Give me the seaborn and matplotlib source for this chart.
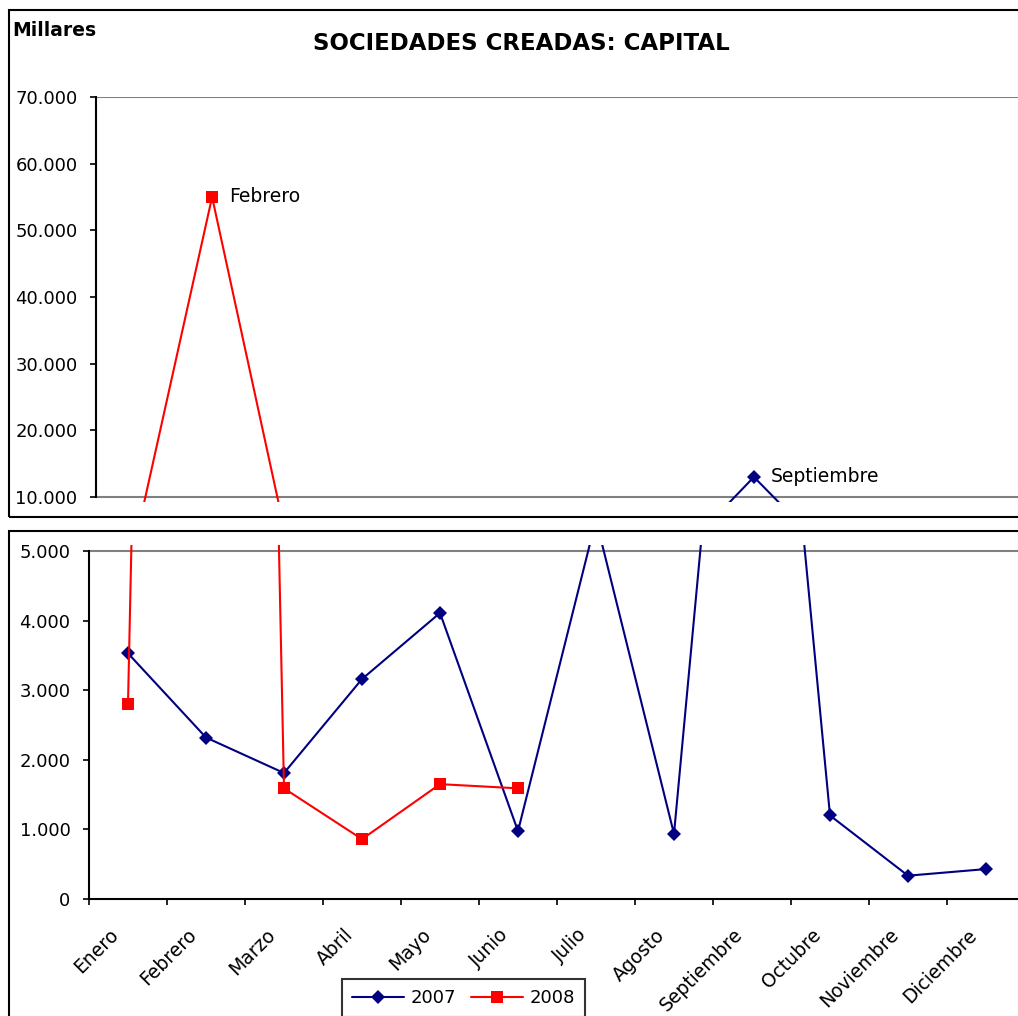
import matplotlib
matplotlib.use("Agg")
import matplotlib.pyplot as plt
from matplotlib.patches import Rectangle
from matplotlib.ticker import FuncFormatter
from matplotlib.transforms import ScaledTranslation
import numpy as np
import pandas as pd
import seaborn as sns

# capital (millares) de sociedades creadas, por mes
meses = ["Enero", "Febrero", "Marzo", "Abril", "Mayo", "Junio", "Julio",
         "Agosto", "Septiembre", "Octubre", "Noviembre", "Diciembre"]
capital_2007 = [3530, 2320, 1810, 3160, 4110, 975, 5450, 935, 13000, 1200, 335, 430]
capital_2008 = [2800, 55000, 1590, 860, 1650, 1590]

colores = {"2007": "#000080", "2008": "#FF0000"}
marcadores = {"2007": "D", "2008": "s"}

W, H = 1018, 1016
sns.set_style("white")
plt.rcParams['font.family'] = ['DejaVu Sans']
plt.rcParams.update({'text.color': 'black', 'axes.labelcolor': 'black',
                     'xtick.color': 'black', 'ytick.color': 'black'})

df = pd.concat([
    pd.DataFrame({"mes": range(len(capital_2007)), "capital": capital_2007, "anio": "2007"}),
    pd.DataFrame({"mes": range(len(capital_2008)), "capital": capital_2008, "anio": "2008"}),
], ignore_index=True)

fig = plt.figure(figsize=(W / 100, H / 100), dpi=100)


def px_axes(x0, y0, x1, y1):
    return fig.add_axes([x0 / W, 1 - y1 / H, (x1 - x0) / W, (y1 - y0) / H])


# broken axis: top panel for the big values, bottom for 0-5000
ax_top = px_axes(96, 97, 96 + 12 * 77.4, 502)
ax_bot = px_axes(89, 545, 89 + 12 * 78, 899)

miles = FuncFormatter(lambda v, p: f"{v:,.0f}".replace(",", "."))

for ax in (ax_top, ax_bot):
    sns.lineplot(data=df, x="mes", y="capital", hue="anio", style="anio",
                 palette=colores, markers=marcadores, dashes=False,
                 linewidth=1.5, markersize=8, markeredgewidth=0,
                 estimator=None, legend=False, ax=ax)
    for l in ax.lines:
        if l.get_marker() == "D":
            l.set_markersize(7)
    ax.set_xlim(-0.5, 11.5)
    ax.set_xlabel("")
    ax.set_ylabel("")
    ax.spines['top'].set_visible(False)
    ax.spines['right'].set_visible(False)
    ax.spines['left'].set_color('black')
    ax.spines['left'].set_linewidth(1.5)
    ax.yaxis.set_major_formatter(miles)
    ax.tick_params(axis='y', left=True, direction='out', length=4.3, width=1.2,
                   pad=9, labelsize=13, colors='black')

serie_handles = list(ax_bot.lines[:2])

# top panel
ax_top.set_ylim(9250, 70000)
ax_top.spines['left'].set_bounds(10000, 70000)
ax_top.spines['bottom'].set_visible(False)
ax_top.set_yticks(np.arange(10000, 70001, 10000))
ax_top.set_xticks([])
ax_top.axhline(70000, color='#808080', lw=1.5, zorder=0)
ax_top.axhline(10000, color='#808080', lw=1.5, zorder=0)
ax_top.annotate("Febrero", xy=(1, capital_2008[1]), xytext=(12, 0),
                textcoords='offset points', va='center', fontsize=13.5)
ax_top.annotate("Septiembre", xy=(8, capital_2007[8]), xytext=(12, 0),
                textcoords='offset points', va='center', fontsize=13.5)

# bottom panel
ax_bot.set_ylim(0, 5086)
ax_bot.spines['left'].set_bounds(0, 5000)
ax_bot.spines['bottom'].set_color('black')
ax_bot.spines['bottom'].set_linewidth(1.5)
ax_bot.set_yticks(np.arange(0, 5001, 1000))
ax_bot.axhline(5000, color='#808080', lw=1.5, zorder=0)
ax_bot.set_xticks(range(12))
ax_bot.set_xticklabels(meses)
ax_bot.set_xticks(np.arange(-0.5, 12, 1), minor=True)
ax_bot.tick_params(axis='x', which='major', bottom=True, length=0, pad=0, labelsize=13.5)
ax_bot.tick_params(axis='x', which='minor', bottom=True, direction='out', length=4.3, width=1.2)

shift = ScaledTranslation(-0.12, -0.33, fig.dpi_scale_trans)
for lab in ax_bot.get_xticklabels():
    lab.set_rotation(45)
    lab.set_ha('right')
    lab.set_va('center')
    lab.set_rotation_mode('anchor')
    lab.set_transform(lab.get_transform() + shift)

# chart borders
fig.add_artist(Rectangle((9 / W, 1 - 517 / H), 1.2, (517 - 10) / H, transform=fig.transFigure,
                         fill=False, ec='black', lw=1.5))
fig.add_artist(Rectangle((9 / W, -0.1), 1.2, 0.1 + 1 - 531 / H, transform=fig.transFigure,
                         fill=False, ec='black', lw=1.5))

fig.text(12 / W, 1 - 31 / H, "Millares", fontweight='bold', fontsize=13.5, ha='left', va='center')
fig.text(521 / W, 1 - 43 / H, "SOCIEDADES CREADAS: CAPITAL", fontweight='bold', fontsize=16.5,
         ha='center', va='center')

leg = fig.legend(serie_handles, ["2007", "2008"], ncol=2, loc='upper left',
                 bbox_to_anchor=(342 / W, 1 - 979 / H), frameon=True, fancybox=False,
                 edgecolor='black', fontsize=13, handlelength=2.9, handletextpad=0.35,
                 columnspacing=0.8, borderpad=0.55, borderaxespad=0)
leg.get_frame().set_linewidth(1.5)

fig.savefig("out.png", dpi=100)
